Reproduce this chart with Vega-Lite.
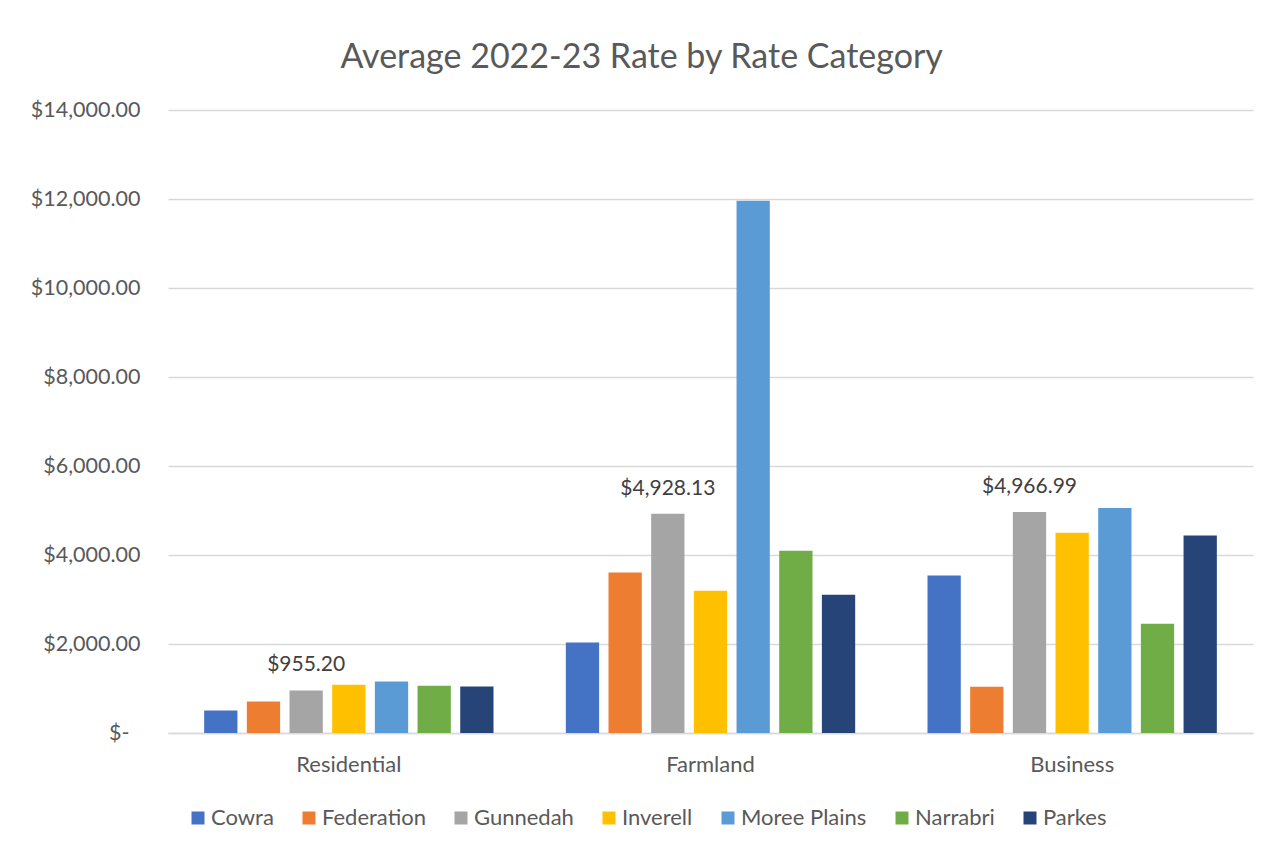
{
  "$schema": "https://vega.github.io/schema/vega-lite/v6.json",
  "width": 1085,
  "height": 623,
  "autosize": {"type": "none"},
  "padding": {"left": 168, "top": 110, "right": 17, "bottom": 114},
  "background": "white",
  "title": {
    "text": "Average 2022-23 Rate by Rate Category",
    "frame": "bounds",
    "anchor": "middle",
    "font": "Lato",
    "fontSize": 34,
    "fontWeight": "normal",
    "color": "#595959",
    "offset": 24
  },
  "data": {
    "values": [
      {"category": "Residential", "council": "Cowra", "rate": 504},
      {"category": "Residential", "council": "Federation", "rate": 710},
      {"category": "Residential", "council": "Gunnedah", "rate": 955.20},
      {"category": "Residential", "council": "Inverell", "rate": 1085},
      {"category": "Residential", "council": "Moree Plains", "rate": 1155},
      {"category": "Residential", "council": "Narrabri", "rate": 1063},
      {"category": "Residential", "council": "Parkes", "rate": 1047},
      {"category": "Farmland", "council": "Cowra", "rate": 2036},
      {"category": "Farmland", "council": "Federation", "rate": 3609},
      {"category": "Farmland", "council": "Gunnedah", "rate": 4928.13},
      {"category": "Farmland", "council": "Inverell", "rate": 3198},
      {"category": "Farmland", "council": "Moree Plains", "rate": 11962},
      {"category": "Farmland", "council": "Narrabri", "rate": 4097},
      {"category": "Farmland", "council": "Parkes", "rate": 3108},
      {"category": "Business", "council": "Cowra", "rate": 3542},
      {"category": "Business", "council": "Federation", "rate": 1040},
      {"category": "Business", "council": "Gunnedah", "rate": 4966.99},
      {"category": "Business", "council": "Inverell", "rate": 4501},
      {"category": "Business", "council": "Moree Plains", "rate": 5056},
      {"category": "Business", "council": "Narrabri", "rate": 2456},
      {"category": "Business", "council": "Parkes", "rate": 4441}
    ]
  },
  "encoding": {
    "x": {
      "field": "category",
      "type": "nominal",
      "sort": ["Residential", "Farmland", "Business"],
      "scale": {"paddingInner": 0.174, "paddingOuter": 0.087},
      "axis": {
        "title": null,
        "labelAngle": 0,
        "labelFont": "Lato",
        "labelFontSize": 22,
        "labelColor": "#595959",
        "labelPadding": 21,
        "ticks": false,
        "domain": true,
        "domainColor": "#d9d9d9",
        "domainWidth": 1.5
      }
    },
    "xOffset": {
      "field": "council",
      "type": "nominal",
      "sort": ["Cowra", "Federation", "Gunnedah", "Inverell", "Moree Plains", "Narrabri", "Parkes"],
      "scale": {"paddingInner": 0.22, "paddingOuter": 0.11}
    },
    "y": {
      "field": "rate",
      "type": "quantitative",
      "scale": {"domain": [0, 14000], "nice": false},
      "axis": {
        "title": null,
        "values": [0, 2000, 4000, 6000, 8000, 10000, 12000, 14000],
        "labelExpr": "datum.value == 0 ? '$-' : format(datum.value, '$,.2f')",
        "labelFont": "Lato",
        "labelFontSize": 21.5,
        "labelColor": "#595959",
        "labelPadding": {"condition": {"test": "datum.value == 0", "value": 39}, "value": 28},
        "ticks": false,
        "domain": false,
        "grid": true,
        "gridColor": "#d9d9d9",
        "gridWidth": 1.5
      }
    }
  },
  "layer": [
    {
      "mark": {"type": "bar"},
      "encoding": {
        "color": {
          "field": "council",
          "type": "nominal",
          "sort": ["Cowra", "Federation", "Gunnedah", "Inverell", "Moree Plains", "Narrabri", "Parkes"],
          "scale": {
            "domain": ["Cowra", "Federation", "Gunnedah", "Inverell", "Moree Plains", "Narrabri", "Parkes"],
            "range": ["#4472C4", "#ED7D31", "#A5A5A5", "#FFC000", "#5B9BD5", "#70AD47", "#264478"]
          },
          "legend": {
            "title": null,
            "orient": "none",
            "legendX": 19,
            "legendY": 697,
            "direction": "horizontal",
            "symbolType": "square",
            "symbolSize": 169,
            "symbolStrokeWidth": 0,
            "labelFont": "Lato",
            "labelFontSize": 22,
            "labelColor": "#595959",
            "labelOffset": 2,
            "columnPadding": 24
          }
        }
      }
    },
    {
      "transform": [{"filter": "datum.council == 'Gunnedah'"}],
      "mark": {
        "type": "text",
        "baseline": "alphabetic",
        "dy": -19,
        "font": "Lato",
        "fontSize": 21,
        "color": "#404040"
      },
      "encoding": {
        "text": {"field": "rate", "type": "quantitative", "format": "$,.2f"}
      }
    }
  ],
  "config": {
    "view": {"stroke": null}
  }
}
